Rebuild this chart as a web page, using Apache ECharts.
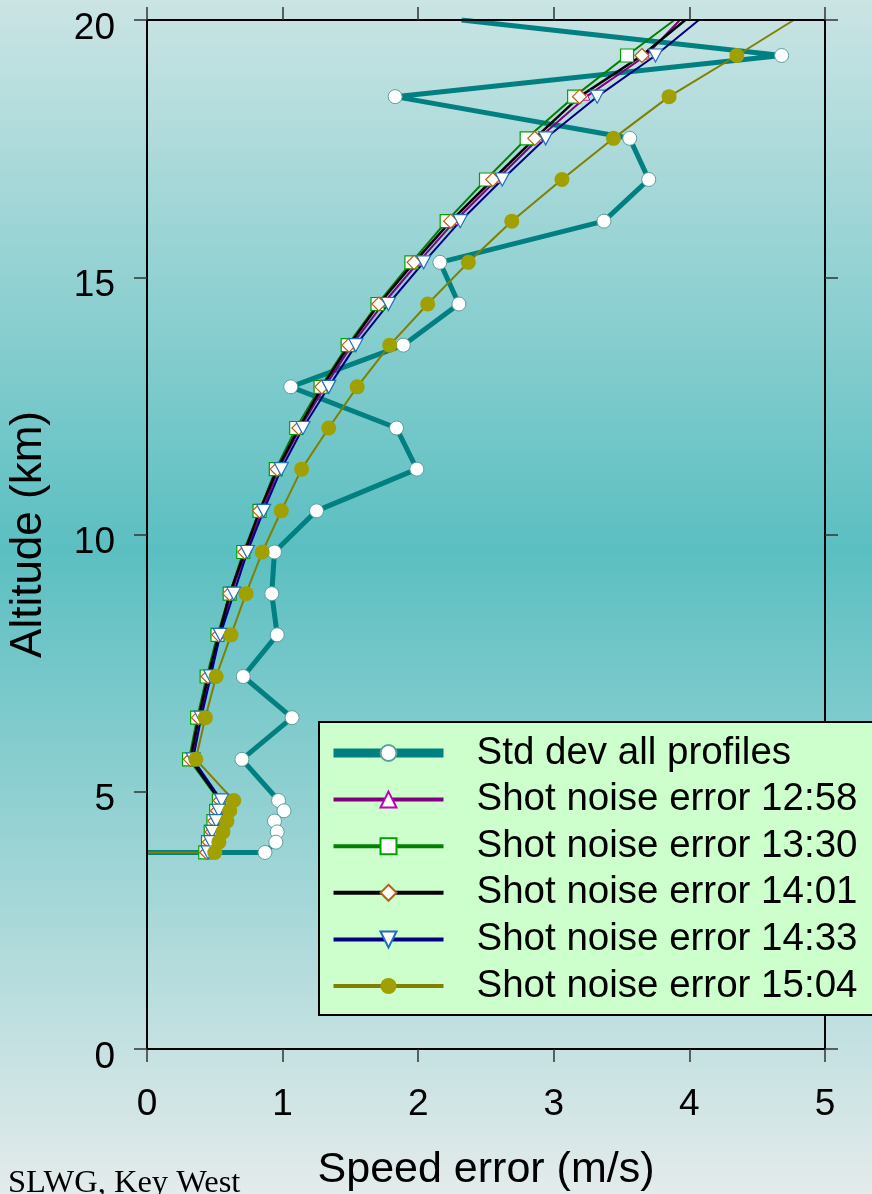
<!DOCTYPE html>
<html>
<head>
<meta charset="utf-8">
<script src="https://cdn.jsdelivr.net/npm/echarts@6/dist/echarts.min.js"></script>
<style>
  html, body { margin: 0; padding: 0; }
  body { width: 872px; height: 1194px; overflow: hidden; }
  #chart { width: 872px; height: 1194px; }
</style>
</head>
<body>
<div id="chart"></div>
<script>
// Altitude levels (km); the first row is where each profile leaves the frame at 20 km.
const altitudes = [20.00, 19.31, 18.51, 17.70, 16.90, 16.09, 15.29, 14.48, 13.68, 12.87,
  12.07, 11.27, 10.46, 9.66, 8.85, 8.05, 7.24, 6.44, 5.63,
  4.83, 4.63, 4.43, 4.22, 4.02, 3.82];

// Speed error (m/s) per altitude level
const stdDevAll = [2.32, 4.68, 1.83, 3.56, 3.70, 3.37, 2.16, 2.30, 1.89, 1.06,
  1.84, 1.99, 1.25, 0.94, 0.92, 0.96, 0.71, 1.07, 0.70,
  0.97, 1.01, 0.94, 0.96, 0.95, 0.87];
const shot1258 = [3.93, 3.68, 3.24, 2.89, 2.58, 2.27, 2.00, 1.74, 1.51, 1.31,
  1.13, 0.97, 0.85, 0.73, 0.62, 0.54, 0.46, 0.39, 0.33,
  0.55, 0.53, 0.51, 0.49, 0.47, 0.45];
const shot1330 = [3.89, 3.54, 3.15, 2.80, 2.50, 2.21, 1.95, 1.70, 1.48, 1.28,
  1.10, 0.95, 0.83, 0.71, 0.61, 0.52, 0.44, 0.37, 0.31,
  0.53, 0.51, 0.49, 0.47, 0.45, 0.43];
const shot1401 = [3.97, 3.65, 3.19, 2.86, 2.55, 2.24, 1.97, 1.71, 1.49, 1.29,
  1.12, 0.96, 0.83, 0.72, 0.61, 0.53, 0.45, 0.38, 0.32,
  0.54, 0.52, 0.50, 0.48, 0.46, 0.44];
const shot1433 = [4.07, 3.75, 3.32, 2.94, 2.62, 2.31, 2.04, 1.78, 1.54, 1.34,
  1.15, 0.99, 0.86, 0.74, 0.64, 0.54, 0.47, 0.40, 0.34,
  0.55, 0.53, 0.51, 0.48, 0.47, 0.45];
const shot1504 = [4.77, 4.35, 3.85, 3.44, 3.06, 2.69, 2.37, 2.07, 1.79, 1.55,
  1.34, 1.14, 0.99, 0.85, 0.73, 0.62, 0.51, 0.43, 0.36,
  0.64, 0.61, 0.59, 0.56, 0.53, 0.50];

const seriesNames = ['Std dev all profiles', 'Shot noise error 12:58', 'Shot noise error 13:30',
  'Shot noise error 14:01', 'Shot noise error 14:33', 'Shot noise error 15:04'];

const xTicks = [0, 1, 2, 3, 4, 5];
const yTicks = [0, 5, 10, 15, 20];

const SANS = '"Liberation Sans", Arial, sans-serif';
const SERIF = '"Liberation Serif", "Times New Roman", serif';
const TRI_DOWN = 'path://M0,0 L20,0 L10,18 Z';

const GRID = { left: 147, right: 47, top: 20, bottom: 145 };

// Page background: pale at top and bottom, teal through the middle.
const bgStops = [
  { offset: 0, color: '#cbe4e4' },
  { offset: 0.46, color: '#5bbfc1' },
  { offset: 1, color: '#e4ebeb' }
];

// Build [speed, altitude] pairs; the frame-edge point carries no marker.
// Optionally run back to zero at the lowest level.
function profile(values, toZero) {
  const top = yTicks[yTicks.length - 1];
  const pts = values.map((v, i) => {
    const item = { value: [v, altitudes[i]] };
    if (altitudes[i] >= top) item.symbol = 'none';
    return item;
  });
  if (toZero) {
    pts.push({ value: [0, altitudes[altitudes.length - 1]], symbol: 'none' });
  }
  return pts;
}

function lineSeries(name, values, opts) {
  return Object.assign({
    name: name,
    type: 'line',
    data: profile(values, opts.toZero),
    clip: true,
    showAllSymbol: true,
    animation: false,
    emphasis: { disabled: true }
  }, opts.extra);
}

const chart = echarts.init(document.getElementById('chart'), null, { renderer: 'canvas' });

const axisLineStyle = { color: '#000', width: 2 };
const tickStyle = { color: '#333', width: 1.5 };

const option = {
  backgroundColor: { type: 'linear', x: 0, y: 0, x2: 0, y2: 1, colorStops: bgStops },
  animation: false,
  grid: Object.assign({ containLabel: false, outerBoundsMode: 'none' }, GRID),
  xAxis: [
    {
      type: 'value', position: 'bottom', min: 0, max: 5, interval: 1, z: 10,
      name: 'Speed error (m/s)', nameLocation: 'middle', nameGap: 100,
      nameTextStyle: { fontFamily: SANS, fontSize: 43, color: '#000' },
      axisLine: { show: true, onZero: false, lineStyle: axisLineStyle },
      axisTick: { show: true, inside: false, length: 13, lineStyle: tickStyle },
      axisLabel: { show: true, margin: 37, fontFamily: SANS, fontSize: 37, color: '#000',
        formatter: v => String(v) },
      splitLine: { show: false }
    },
    {
      type: 'value', position: 'top', min: 0, max: 5, interval: 1, z: 10,
      axisLine: { show: true, onZero: false, lineStyle: axisLineStyle },
      axisTick: { show: true, inside: false, length: 13, lineStyle: tickStyle },
      axisLabel: { show: false },
      splitLine: { show: false }
    }
  ],
  yAxis: [
    {
      type: 'value', position: 'left', min: 0, max: 20, interval: 5, z: 10,
      name: 'Altitude (km)', nameLocation: 'middle', nameGap: 96, nameRotate: 90,
      nameTextStyle: { fontFamily: SANS, fontSize: 44, color: '#000' },
      axisLine: { show: true, onZero: false, lineStyle: axisLineStyle },
      axisTick: { show: true, inside: false, length: 13, lineStyle: tickStyle },
      axisLabel: { show: true, margin: 32, color: '#000',
        formatter: v => '{t|' + v + '}',
        rich: { t: { fontFamily: SANS, fontSize: 37, color: '#000', padding: [17, 0, 0, 0] } } },
      splitLine: { show: false }
    },
    {
      type: 'value', position: 'right', min: 0, max: 20, interval: 5, z: 10,
      axisLine: { show: true, onZero: false, lineStyle: axisLineStyle },
      axisTick: { show: true, inside: false, length: 13, lineStyle: tickStyle },
      axisLabel: { show: false },
      splitLine: { show: false }
    }
  ],
  legend: {
    orient: 'vertical',
    left: 319, top: 722,
    padding: [11, 80, 9, 10],
    itemWidth: 110, itemHeight: 20, itemGap: 6.6,
    backgroundColor: '#ccffcc',
    borderColor: '#000', borderWidth: 2,
    selectedMode: false,
    z: 12,
    textStyle: { fontFamily: SANS, fontSize: 38.5, lineHeight: 40, color: '#000', padding: [0, 0, 0, 28] },
    data: [
      { name: seriesNames[0], lineStyle: { width: 9 } },
      { name: seriesNames[1], lineStyle: { width: 4 } },
      { name: seriesNames[2], lineStyle: { width: 4 } },
      { name: seriesNames[3], lineStyle: { width: 4 } },
      { name: seriesNames[4], lineStyle: { width: 4 } },
      { name: seriesNames[5], lineStyle: { width: 4 } }
    ]
  },
  series: [
    lineSeries(seriesNames[0], stdDevAll, { toZero: true, extra: {
      symbol: 'circle', symbolSize: 14,
      lineStyle: { color: '#008080', width: 5 },
      itemStyle: { color: '#ffffff', borderColor: '#5e9e9e', borderWidth: 1 }
    } }),
    lineSeries(seriesNames[1], shot1258, { toZero: false, extra: {
      symbol: 'triangle', symbolSize: 7,
      lineStyle: { color: '#800080', width: 2 },
      itemStyle: { color: '#ffffff', borderColor: '#c000c0', borderWidth: 1 }
    } }),
    lineSeries(seriesNames[2], shot1330, { toZero: false, extra: {
      symbol: 'rect', symbolSize: 13,
      lineStyle: { color: '#008000', width: 2 },
      itemStyle: { color: '#ffffff', borderColor: '#00a000', borderWidth: 1.2 }
    } }),
    lineSeries(seriesNames[3], shot1401, { toZero: false, extra: {
      symbol: 'diamond', symbolSize: 14,
      lineStyle: { color: '#000000', width: 2.5 },
      itemStyle: { color: '#ffffff', borderColor: '#b8600c', borderWidth: 1.2 }
    } }),
    lineSeries(seriesNames[4], shot1433, { toZero: false, extra: {
      symbol: TRI_DOWN, symbolSize: [14, 13],
      lineStyle: { color: '#000080', width: 2 },
      itemStyle: { color: '#ffffff', borderColor: '#1f6fbf', borderWidth: 1.2 }
    } }),
    lineSeries(seriesNames[5], shot1504, { toZero: true, extra: {
      symbol: 'circle', symbolSize: 15,
      lineStyle: { color: '#808000', width: 2 },
      itemStyle: { color: '#a0a000', borderColor: '#a0a000', borderWidth: 0 }
    } })
  ],
  graphic: [
    {
      type: 'text', left: 8, top: 1167,
      style: { text: 'SLWG, Key West', fontFamily: SERIF, fontSize: 32.5, fill: '#000' }
    }
  ]
};

chart.setOption(option);
</script>
</body>
</html>
